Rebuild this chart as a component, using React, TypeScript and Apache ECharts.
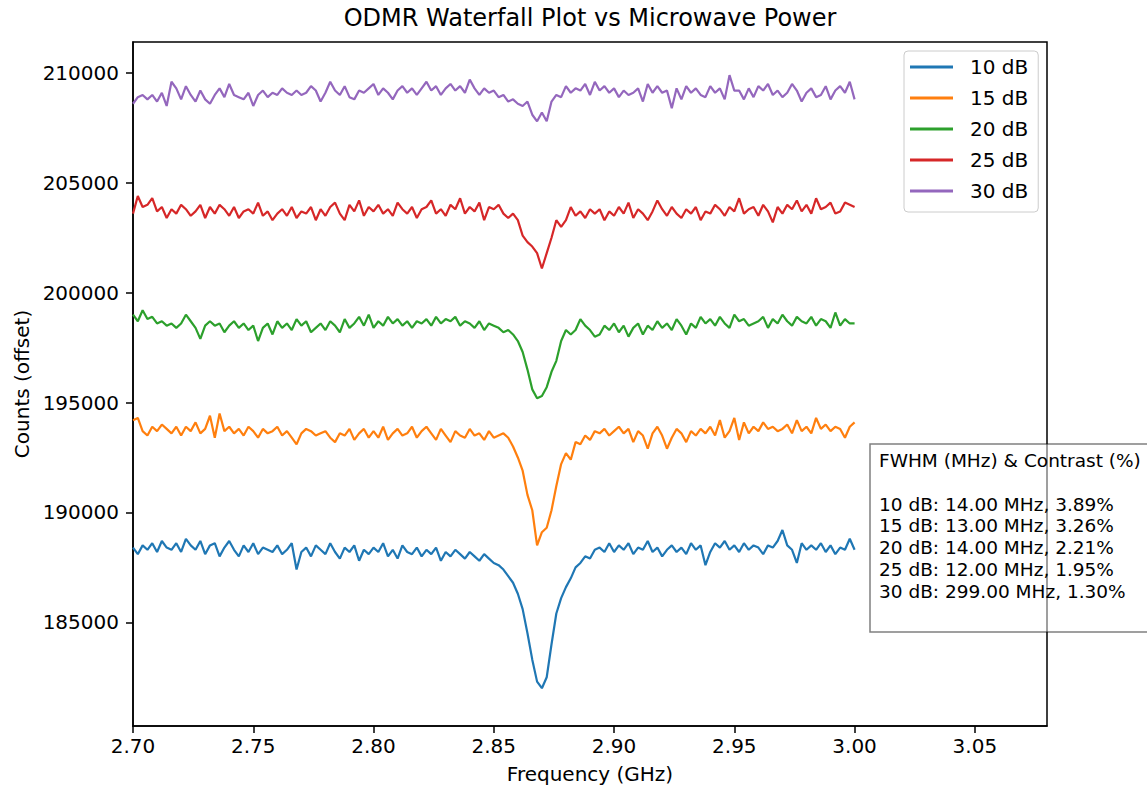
import React, { useEffect, useRef } from "react";
import * as echarts from "echarts";

const FONT = "DejaVu Sans";

const FREQ_START = 2.7;
const FREQ_STEP = 0.002;
const POINTS = 151;

const seriesLabels = ["10 dB", "15 dB", "20 dB", "25 dB", "30 dB"];
const seriesColors = ["#1f77b4", "#ff7f0e", "#2ca02c", "#d62728", "#9467bd"];

const counts10 = [
  188400, 188100, 188500, 188300, 188600, 188200, 188700, 188400, 188300, 188600,
  188200, 188800, 188500, 188300, 188700, 188100, 188500, 188600, 188000, 188400,
  188700, 188300, 188000, 188500, 188200, 188600, 188100, 188400, 188300, 188200,
  188500, 188100, 188300, 188600, 187400, 188200, 188400, 188000, 188500, 188300,
  188100, 188600, 188200, 187900, 188400, 188200, 188500, 187800, 188300, 188100,
  188400, 188200, 188600, 188000, 188300, 187900, 188500, 188200, 188100, 188400,
  188000, 188300, 188100, 188400, 187800, 188200, 188000, 188300, 188100, 187900,
  188200, 188000, 187800, 188100, 187900, 187700, 187600, 187400, 187100, 186800,
  186300, 185600, 184500, 183300, 182300, 182000, 182500, 184000, 185400, 186100,
  186600, 187000, 187500, 187700, 188000, 187900, 188300, 188400, 188200, 188600,
  188200, 188500, 188300, 188600, 188100, 188400, 188300, 188700, 188200, 188400,
  188000, 188300, 188500, 188200, 188400, 188100, 188600, 188300, 188500, 187600,
  188200, 188600, 188400, 188700, 188300, 188500, 188200, 188600, 188300, 188500,
  188400, 188100, 188500, 188400, 188700, 189200, 188500, 188300, 187700, 188600,
  188300, 188500, 188300, 188600, 188200, 188500, 188100, 188400, 188300, 188800,
  188300,
];

const counts15 = [
  194200, 194300, 193700, 193500, 193900, 193700, 194000, 193800, 193600, 193900,
  193500, 193900, 193700, 194100, 193600, 193800, 194400, 193400, 194500, 193700,
  193900, 193600, 193800, 193500, 193900, 193700, 193400, 193800, 193600, 193700,
  193900, 193500, 193700, 193400, 193100, 193600, 193800, 193700, 193500, 193600,
  193700, 193400, 193200, 193600, 193500, 193800, 193300, 193600, 193800, 193400,
  193700, 193400, 193900, 193300, 193600, 193800, 193500, 193600, 193900, 193400,
  193700, 193900, 193600, 193300, 193800, 193500, 193200, 193700, 193500, 193400,
  193800, 193500, 193600, 193300, 193700, 193400, 193500, 193600, 193400, 193000,
  192500, 191900, 190800, 190100, 188500, 189100, 189300, 190100, 191200, 192200,
  192700, 192400, 193200, 193100, 193500, 193300, 193700, 193600, 193800, 193500,
  193700, 193900, 193600, 193800, 193200, 193700, 193500, 192900, 193600, 193900,
  193500, 192900, 193400, 193800, 193600, 193200, 193700, 193500, 193800, 193600,
  193900, 193500, 194200, 193400, 193700, 194300, 193300, 194100, 193600, 193900,
  193700, 194100, 193800, 193900, 193700, 193800, 194000, 193600, 194200, 193700,
  193900, 193600, 194300, 193800, 194000, 193700, 193900, 193800, 193400, 193900,
  194100,
];

const counts20 = [
  199000, 198700, 199200, 198800, 198900, 198600, 198700, 198500, 198600, 198400,
  198600, 199000, 198700, 198400, 197900, 198500, 198700, 198500, 198600, 198200,
  198500, 198700, 198400, 198600, 198300, 198500, 197800, 198400, 198600, 198100,
  198700, 198400, 198600, 198300, 198800, 198500, 198700, 198200, 198400, 198600,
  198300, 198700, 198500, 198200, 198800, 198400, 198600, 198900, 198500, 199000,
  198400, 198700, 198500, 198900, 198600, 198800, 198500, 198700, 198400, 198700,
  198600, 198800, 198500, 198900, 198600, 198800, 198700, 198900, 198500, 198700,
  198600, 198400, 198700, 198300, 198600, 198500, 198400, 198200, 198300, 198100,
  197800, 197300, 196500, 195600, 195200, 195300, 195700, 196400, 196900, 197800,
  198300, 198100, 198300, 198800, 198500, 198300, 198000, 198100, 198500, 198300,
  198600, 198200, 198500, 198000, 198400, 198600, 198100, 198500, 198300, 198700,
  198400, 198600, 198300, 198800, 198500, 198100, 198600, 198400, 198900, 198600,
  198800, 198500, 198900, 198600, 198400, 199000, 198700, 198800, 198500, 198600,
  198700, 198900, 198400, 198800, 198600, 199000, 198700, 198500, 198900, 198700,
  198600, 198900, 198500, 198800, 198700, 198400, 199100, 198500, 198800, 198600,
  198600,
];

const counts25 = [
  203600, 204400, 203900, 204000, 204300, 203700, 203900, 203400, 203800, 203600,
  204000, 203800, 203500, 203700, 204000, 203400, 203900, 203600, 204000, 203800,
  203500, 203900, 203400, 203700, 203800, 203600, 204100, 203500, 203700, 203300,
  203600, 203800, 203500, 203900, 203400, 203700, 203600, 203900, 203300, 203800,
  203500, 203900, 204100, 203600, 203300, 204000, 203700, 204200, 203500, 203900,
  203700, 204000, 203600, 203800, 203500, 204100, 203800, 203600, 203900, 203400,
  203800, 203900, 204200, 203600, 203800, 203500, 204000, 203800, 204300, 203600,
  203900, 203700, 204100, 203300, 203900, 203800, 204000, 203600, 203400, 203600,
  203300, 202600, 202300, 202100, 201800, 201100, 201800, 202500, 203300, 203000,
  203300, 203900, 203500, 203700, 203400, 203800, 203600, 203800, 203300, 203700,
  203500, 203900, 203600, 204100, 203400, 203800, 203600, 203300, 203700, 204200,
  203800, 203500, 203900, 203600, 203400, 203800, 203600, 203900, 203300, 203700,
  203600, 204000, 203800, 203500, 203900, 203700, 204300, 203600, 203800, 203900,
  203500, 204000, 203700, 203200, 203900, 203600, 204000, 203800, 204200, 203700,
  204000, 203600, 204300, 203800, 203900, 204100, 203600, 203700, 204100, 204000,
  203900,
];

const counts30 = [
  208600, 208900, 209000, 208800, 209000, 208700, 209100, 208500, 209600, 209300,
  208800, 209400, 209000, 208700, 209200, 208800, 208600, 209000, 209300, 208900,
  209500, 209000, 208900, 208800, 209100, 208500, 209000, 209200, 208900, 209100,
  209000, 209300, 209100, 209000, 209200, 209000, 209100, 209400, 209200, 208700,
  209100, 209600, 209200, 209000, 209400, 208900, 208800, 209200, 209100, 209300,
  209500, 209000, 209300, 209100, 208800, 209200, 209400, 209100, 209300, 209000,
  209300, 209600, 209200, 209400, 209000, 209300, 209500, 209200, 209400, 209100,
  209700, 209300, 209000, 209300, 209100, 209200, 208900, 209000, 208700, 208800,
  208600, 208500, 208700, 208100, 207800, 208200, 207800, 208700, 209000, 208900,
  209400, 209100, 209300, 209200, 209500, 209000, 209600, 209200, 209400, 209100,
  209300, 208900, 209200, 209000, 209100, 209300, 208700, 209500, 209100, 209400,
  209100, 209200, 208400, 209300, 208800, 209400, 209100, 209300, 209000, 208900,
  209400, 209100, 209300, 208800, 209900, 209200, 209200, 208800, 209300, 208900,
  209400, 209200, 209500, 209000, 209200, 208900, 209100, 209500, 209200, 208700,
  209100, 209300, 208900, 209000, 209400, 208800, 209200, 209400, 209100, 209600,
  208800,
];

const allCounts = [counts10, counts15, counts20, counts25, counts30];

const fwhmMHz = [14.0, 13.0, 14.0, 12.0, 299.0];
const contrastPct = [3.89, 3.26, 2.21, 1.95, 1.3];

const xTicks = [2.7, 2.75, 2.8, 2.85, 2.9, 2.95, 3.0, 3.05];
const yTicks = [185000, 190000, 195000, 200000, 205000, 210000];

const X_MIN = 2.7;
const X_MAX = 3.08;
const Y_MIN = 180280;
const Y_MAX = 211410;

const freqs: number[] = [];
for (let i = 0; i < POINTS; i++) freqs.push(+(FREQ_START + FREQ_STEP * i).toFixed(3));

export default function App() {
  const ref = useRef<HTMLDivElement>(null);

  useEffect(() => {
    if (!ref.current) return;
    const chart = echarts.init(ref.current, undefined, { renderer: "svg" });

    const annotation =
      "FWHM (MHz) & Contrast (%)\n\n" +
      seriesLabels
        .map((l, i) => `${l}: ${fwhmMHz[i].toFixed(2)} MHz, ${contrastPct[i].toFixed(2)}%`)
        .join("\n");

    const option: any = {
      animation: false,
      backgroundColor: "#ffffff",
      textStyle: { fontFamily: FONT },
      title: {
        text: "ODMR Waterfall Plot vs Microwave Power",
        left: 590,
        top: 6,
        textAlign: "center",
        padding: 0,
        textStyle: { fontSize: 24, fontWeight: "normal", color: "#000", fontFamily: FONT },
      },
      grid: {
        left: 133,
        top: 42,
        width: 914,
        height: 685,
        show: true,
        borderColor: "#000",
        borderWidth: 1.5,
        backgroundColor: "transparent",
      },
      legend: {
        orient: "vertical",
        left: 904,
        top: 51,
        icon: "rect",
        itemWidth: 43,
        itemHeight: 3,
        itemGap: 11,
        padding: [6, 10, 11, 6],
        backgroundColor: "rgba(255,255,255,0.8)",
        borderColor: "#cccccc",
        borderWidth: 1,
        borderRadius: 4,
        textStyle: { fontSize: 20, color: "#000", fontFamily: FONT, padding: [0, 0, 0, 12] },
        data: seriesLabels,
      },
      xAxis: {
        type: "value",
        min: X_MIN,
        max: X_MAX,
        name: "Frequency (GHz)",
        nameLocation: "middle",
        nameGap: 38,
        nameTextStyle: { fontSize: 20, color: "#000", fontFamily: FONT },
        axisLine: { show: true, onZero: false, lineStyle: { color: "#000", width: 1.5 } },
        axisTick: { show: true, length: 7, lineStyle: { color: "#000", width: 1.5 }, customValues: xTicks },
        axisLabel: {
          customValues: xTicks,
          formatter: (v: number) => v.toFixed(2),
          fontSize: 20,
          color: "#000",
          fontFamily: FONT,
          margin: 10,
        },
        splitLine: { show: false },
      },
      yAxis: {
        type: "value",
        min: Y_MIN,
        max: Y_MAX,
        name: "Counts (offset)",
        nameLocation: "middle",
        nameGap: 99,
        nameRotate: 90,
        nameTextStyle: { fontSize: 20, color: "#000", fontFamily: FONT },
        axisLine: { show: true, onZero: false, lineStyle: { color: "#000", width: 1.5 } },
        axisTick: { show: true, length: 7, lineStyle: { color: "#000", width: 1.5 }, customValues: yTicks },
        axisLabel: {
          customValues: yTicks,
          formatter: (v: number) => String(Math.round(v)),
          fontSize: 20,
          color: "#000",
          fontFamily: FONT,
          margin: 14,
        },
        splitLine: { show: false },
      },
      series: allCounts.map((vals, k) => ({
        name: seriesLabels[k],
        type: "line",
        data: vals.map((v, i) => [freqs[i], v]),
        symbol: "none",
        showSymbol: false,
        color: seriesColors[k],
        lineStyle: { color: seriesColors[k], width: 2.2 },
        emphasis: { disabled: true },
      })),
      graphic: [
        {
          type: "rect",
          z: 100,
          shape: { x: 870, y: 444, width: 320, height: 188 },
          style: { fill: "rgba(255,255,255,0.5)", stroke: "rgba(0,0,0,0.5)", lineWidth: 1.5 },
        },
        {
          type: "text",
          z: 101,
          x: 879,
          y: 450,
          style: {
            text: annotation,
            fontSize: 18.5,
            fontFamily: FONT,
            lineHeight: 21.7,
            fill: "#000",
            verticalAlign: "top",
          },
        },
      ],
    };

    chart.setOption(option);
    return () => chart.dispose();
  }, []);

  return (
    <div
      ref={ref}
      style={{ position: "absolute", left: 0, top: 0, width: 1147, height: 789 }}
    />
  );
}
